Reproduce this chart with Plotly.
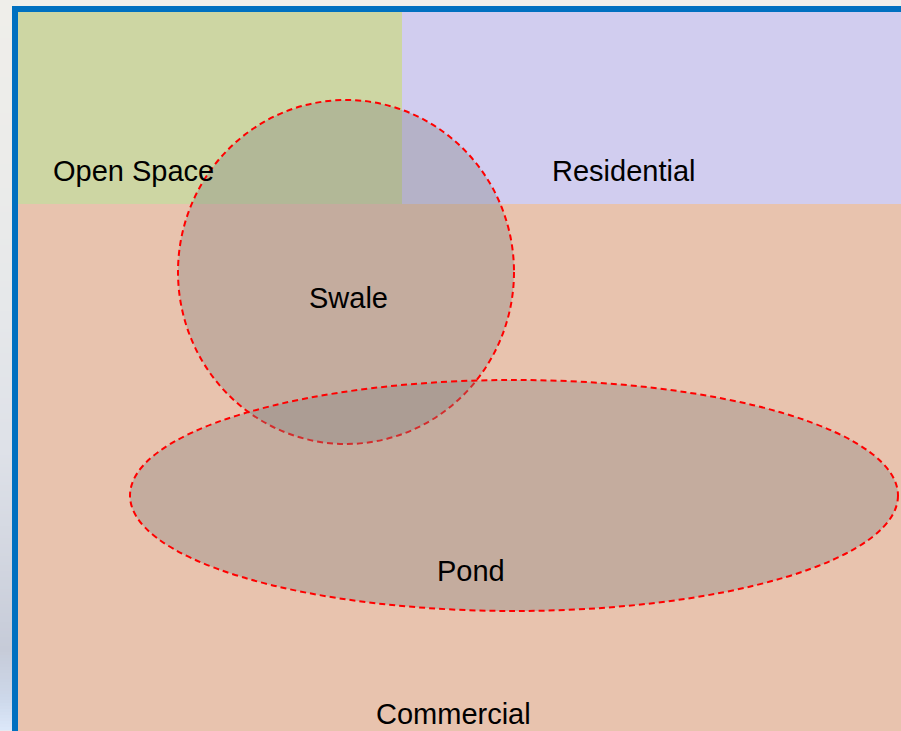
import plotly.graph_objects as go

# Diagram regions (pixel-space diagram units)
region_names = ["Open Space", "Residential", "Commercial"]
region_x0 = [18, 402, 18]
region_x1 = [402, 901, 901]
region_y0 = [12, 12, 204]
region_y1 = [204, 204, 731]
region_colors = ["#CDD6A3", "#D1CDEF", "#E8C3AE"]
region_label_x = [133, 623, 453]
region_label_y = [171, 171, 714]

# Overlay zones (ellipses): centre and radii
zone_names = ["Swale", "Pond"]
zone_cx = [346, 514]
zone_cy = [272, 495.5]
zone_rx = [168, 384]
zone_ry = [172, 115.5]
zone_label_x = [348, 471]
zone_label_y = [298, 571]

# Left background gradient stops (y position, colour)
grad_y = [0, 150, 300, 450, 560, 650, 700, 731]
grad_c = ["#EFEEEA", "#ECECEA", "#E6E8EA", "#DEE1E8", "#D2D6E0", "#C6CBD8", "#CDD8EA", "#DCE8FA"]

fig = go.Figure()

# background gradient strip
ymax = max(grad_y)
cs = [[y / ymax, c] for y, c in zip(grad_y, grad_c)]
ys = list(range(0, 732, 3))
fig.add_trace(go.Heatmap(
    x=[0, 12], y=ys, z=[[y, y] for y in ys],
    colorscale=cs, zmin=0, zmax=ymax, showscale=False, hoverinfo="skip",
))

shapes = []
# blue frame
shapes.append(dict(type="rect", x0=12, x1=901, y0=6, y1=731, fillcolor="#0070C0", line=dict(width=0), layer="above"))
for n, x0, x1, y0, y1, c in zip(region_names, region_x0, region_x1, region_y0, region_y1, region_colors):
    shapes.append(dict(type="rect", x0=x0, x1=x1, y0=y0, y1=y1, fillcolor=c, line=dict(width=0), layer="above"))
for n, cx, cy, rx, ry in zip(zone_names, zone_cx, zone_cy, zone_rx, zone_ry):
    shapes.append(dict(type="circle", x0=cx - rx, x1=cx + rx, y0=cy - ry, y1=cy + ry,
                       fillcolor="rgba(128,128,128,0.35)",
                       line=dict(color="#FF0000", width=2, dash="6px,4px"), layer="above"))

annotations = []
for n, x, y in list(zip(region_names, region_label_x, region_label_y)) + list(zip(zone_names, zone_label_x, zone_label_y)):
    annotations.append(dict(x=x, y=y, xref="x", yref="y", text=n, showarrow=False,
                            font=dict(family="Liberation Sans, Arial, sans-serif", size=29, color="#000000"),
                            xanchor="center", yanchor="middle"))

fig.update_layout(
    width=901, height=731, autosize=False,
    margin=dict(l=0, r=0, t=0, b=0, pad=0),
    paper_bgcolor="#F0EFEB", plot_bgcolor="#F0EFEB",
    xaxis=dict(range=[0, 901], visible=False, fixedrange=True),
    yaxis=dict(range=[731, 0], visible=False, fixedrange=True),
    shapes=shapes, annotations=annotations, showlegend=False,
)

fig.write_html(
    "out.html",
    config={"displayModeBar": False},
    post_script="document.body.style.margin='0px';document.body.style.overflow='hidden';",
)
